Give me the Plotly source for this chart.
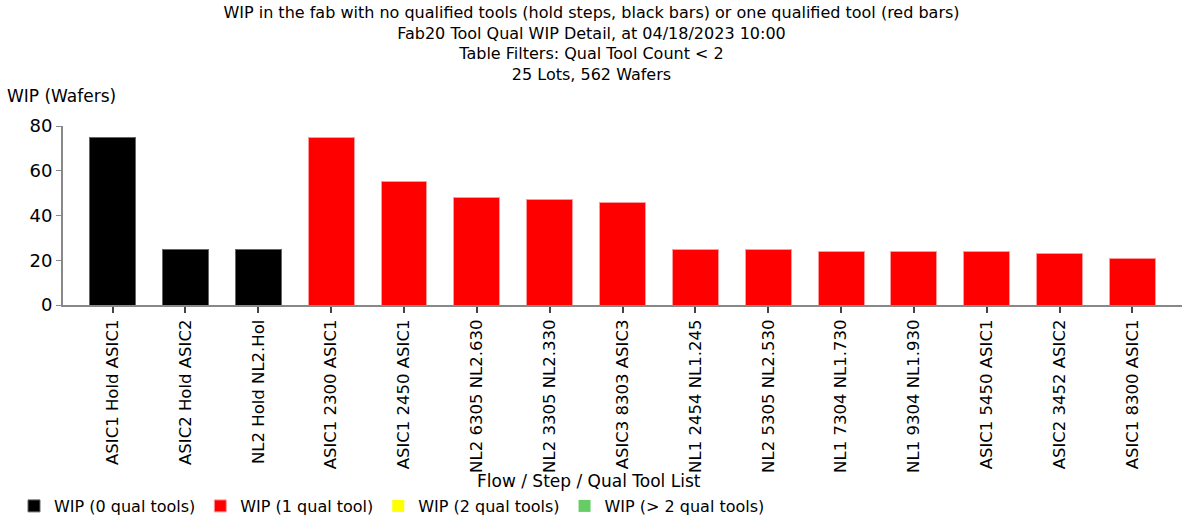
import plotly.graph_objects as go

# flow / step / qual tool list
categories = [
    "ASIC1 Hold ASIC1", "ASIC2 Hold ASIC2", "NL2 Hold NL2.Hol",
    "ASIC1 2300 ASIC1", "ASIC1 2450 ASIC1", "NL2 6305 NL2.630",
    "NL2 3305 NL2.330", "ASIC3 8303 ASIC3", "NL1 2454 NL1.245",
    "NL2 5305 NL2.530", "NL1 7304 NL1.730", "NL1 9304 NL1.930",
    "ASIC1 5450 ASIC1", "ASIC2 3452 ASIC2", "ASIC1 8300 ASIC1",
]
zero_tool_steps = categories[:3]
zero_tool_wip = [75, 25, 25]
one_tool_steps = categories[3:]
one_tool_wip = [75, 55, 48, 47, 46, 25, 25, 24, 24, 24, 23, 21]
# no steps in this view have 2 or more qualified tools
two_tool_wip = [0]
many_tool_wip = [0]
y_ticks = [0, 20, 40, 60, 80]

FONT = "Tahoma, 'DejaVu Sans', sans-serif"

fig = go.Figure()
fig.add_trace(go.Bar(x=zero_tool_steps, y=zero_tool_wip, name="WIP (0 qual tools)",
                     marker=dict(color="#000000", line=dict(color="#666666", width=1)),
                     width=0.63))
fig.add_trace(go.Bar(x=one_tool_steps, y=one_tool_wip, name="WIP (1 qual tool)",
                     marker=dict(color="#ff0000", line=dict(color="#ff9999", width=1)),
                     width=0.63))
fig.add_trace(go.Bar(x=categories[:1], y=two_tool_wip, name="WIP (2 qual tools)",
                     marker=dict(color="#ffff00", line=dict(width=0)), width=0.63))
fig.add_trace(go.Bar(x=categories[:1], y=many_tool_wip, name="WIP (> 2 qual tools)",
                     marker=dict(color="#66cc66", line=dict(width=0)), width=0.63))

fig.update_layout(
    width=1183, height=523,
    barmode="stack",
    plot_bgcolor="white", paper_bgcolor="white",
    font=dict(family=FONT, size=16, color="black"),
    margin=dict(l=63, r=1, t=126, b=218),
    title=dict(
        text="WIP in the fab with no qualified tools (hold steps, black bars) or one qualified tool (red bars)"
             "<br>Fab20 Tool Qual WIP Detail, at 04/18/2023 10:00"
             "<br>Table Filters: Qual Tool Count &lt; 2<br>25 Lots, 562 Wafers",
        x=0.5, xref="container", xanchor="center",
        y=0.966, yref="container", yanchor="top",
        font=dict(size=16),
    ),
    xaxis=dict(
        categoryorder="array", categoryarray=categories,
        range=[-0.68, 14.68], automargin=False,
        tickangle=-90, tickfont=dict(size=16.5),
        showline=True, linecolor="#888888", linewidth=2,
        ticks="outside", ticklen=6, tickcolor="#444444", tickwidth=1.5,
        showgrid=False,
    ),
    yaxis=dict(
        range=[0, 80], tickvals=y_ticks, automargin=False,
        tickfont=dict(size=18),
        showline=True, linecolor="#888888", linewidth=2,
        ticks="outside", ticklen=5, tickcolor="#888888",
        showgrid=False, zeroline=False,
    ),
    legend=dict(
        orientation="h", traceorder="normal",
        x=14 / 1183, xref="container", xanchor="left",
        y=-0.006, yref="container", yanchor="bottom",
        font=dict(size=16), itemwidth=30, tracegroupgap=0,
    ),
    annotations=[
        dict(text="WIP (Wafers)", xref="paper", yref="paper",
             x=(5 - 63) / 1119, y=(305 - 96) / 179, xanchor="left", yanchor="middle",
             showarrow=False, font=dict(size=17)),
        dict(text="Flow / Step / Qual Tool List", xref="paper", yref="paper",
             x=0.47, y=(305 - 481) / 179, xanchor="center", yanchor="middle",
             showarrow=False, font=dict(size=17)),
    ],
)

fig.write_html("out.html", config={"displayModeBar": False},
               post_script="document.body.style.margin='0';")
